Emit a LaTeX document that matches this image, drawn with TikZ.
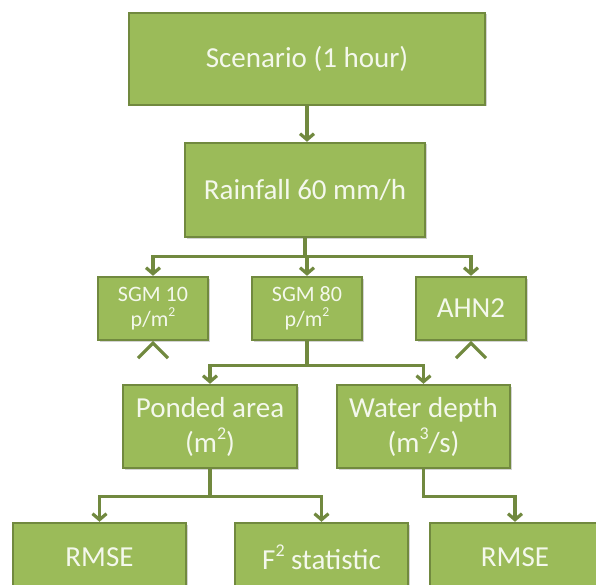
\documentclass[tikz,border=0pt]{standalone}
\usepackage{fontspec}
\setmainfont{Carlito}
\usetikzlibrary{arrows.meta,shadows}
\definecolor{boxfill}{RGB}{155,187,89}
\definecolor{boxedge}{RGB}{113,137,63}
\definecolor{boxtext}{RGB}{244,248,236}
\newcommand{\supr}[1]{\raisebox{0.45em}{\scalebox{0.62}{#1}}}
\tikzset{
  gbox/.style={draw=boxedge, line width=2.4pt, fill=boxfill, text=boxtext,
    inner sep=0pt, align=center, font=\fontsize{29}{35}\selectfont,
    drop shadow={shadow xshift=1.5pt, shadow yshift=-1.5pt, opacity=0.35}},
  sbox/.style={gbox, font=\fontsize{22}{25}\selectfont},
  conn/.style={draw=boxedge, line width=3.2pt, -{Straight Barb[length=6pt,width=14pt,line width=3.2pt]}},
  caret/.style={draw=boxedge, line width=3.2pt}
}
\begin{document}
\begin{tikzpicture}[x=1pt,y=-1pt]
\useasboundingbox (0,0) rectangle (596,585);
\clip (0,0) rectangle (596,585);
\node[gbox, minimum width=356pt, minimum height=92pt] (scen) at (307,59) {Scenario (1 hour)};
\node[gbox, minimum width=240pt, minimum height=94pt] (rain) at (305,190) {Rainfall 60 mm/h};
\node[sbox, minimum width=110pt, minimum height=63pt] (sgm10) at (153,308.5) {SGM 10\\p/m\supr{2}};
\node[sbox, minimum width=110pt, minimum height=63pt] (sgm80) at (307,308.5) {SGM 80\\p/m\supr{2}};
\node[gbox, minimum width=110pt, minimum height=63pt] (ahn) at (471,308.5) {AHN2};
\node[gbox, minimum width=174pt, minimum height=83pt] (pond) at (210,426.5) {Ponded area\\(m\supr{2})};
\node[gbox, minimum width=173pt, minimum height=83pt] (wat) at (423.5,426.5) {Water depth\\(m\supr{3}/s)};
\node[gbox, minimum width=173pt, minimum height=68pt] (rm1) at (99.5,557) {RMSE};
\node[gbox, minimum width=173pt, minimum height=68pt] (f2) at (321.5,557) {F\supr{2} statistic};
\node[gbox, minimum width=170pt, minimum height=68pt] (rm2) at (515,557) {RMSE};

\draw[conn] (scen.south) -- (scen.south |- rain.north);
\draw[conn] (rain.south) -- ++(0,18) -| (sgm10.north);
\draw[conn] (rain.south) -- ++(0,18) -| (sgm80.north);
\draw[conn] (rain.south) -- ++(0,18) -| (ahn.north);
\draw[conn] (sgm80.south) -- ++(0,24) -| (pond.north);
\draw[conn] (sgm80.south) -- ++(0,24) -| (wat.north);
\draw[conn] (pond.south) -- ++(0,27) -| (rm1.north);
\draw[conn] (pond.south) -- ++(0,27) -| (f2.north);
\draw[conn] (wat.south) -- ++(0,27) -| (rm2.north);

\draw[caret] (sgm10.south) ++(-15,17) -- ++(15,-15) -- ++(15,15);
\draw[caret] (ahn.south) ++(-15,17) -- ++(15,-15) -- ++(15,15);
\end{tikzpicture}
\end{document}
